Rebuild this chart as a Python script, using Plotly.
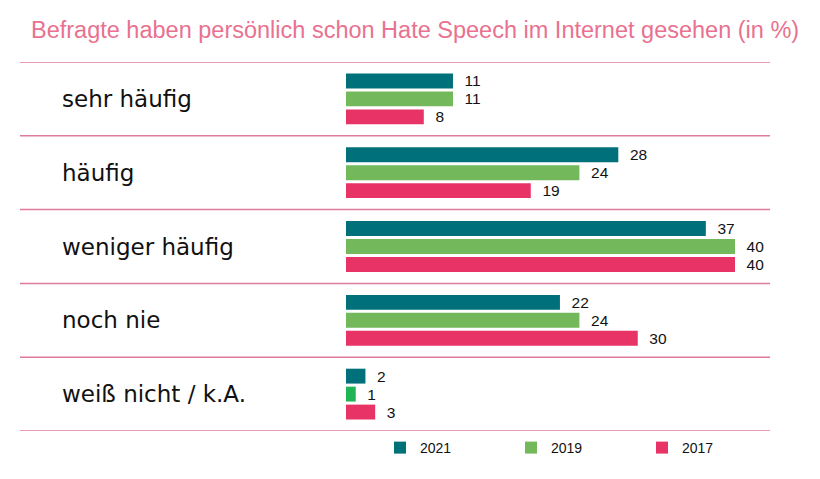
import plotly.graph_objects as go

categories = ["sehr häufig", "häufig", "weniger häufig", "noch nie", "weiß nicht / k.A."]
years = ["2021", "2019", "2017"]
values_2021 = [11, 28, 37, 22, 2]
values_2019 = [11, 24, 40, 24, 1]
values_2017 = [8, 19, 40, 30, 3]

title_text = "Befragte haben persönlich schon Hate Speech im Internet gesehen (in %)"

# page body adds an 8px offset; size the figure to compensate
OFF = 8
W, H = 820 - OFF, 479 - OFF


def px(x):
    return (x - OFF) / W


def py(y):
    return 1 - (y - OFF) / H


colors = {
    "2021": ["#00717a"] * 5,
    "2019": ["#73b95b"] * 4 + ["#1fb554"],
    "2017": ["#e83366"] * 5,
}
series = {"2021": values_2021, "2019": values_2019, "2017": values_2017}

fig = go.Figure()
for yr in years:
    fig.add_trace(go.Bar(
        name=yr, y=categories, x=series[yr], orientation="h",
        marker=dict(color=colors[yr], line=dict(width=0)),
        text=series[yr], textposition="outside", cliponaxis=False,
        texttemplate="  %{x}", constraintext="none",
        textfont=dict(family="Liberation Sans, Arial", size=15.5, color="#111"),
        legendgroup=yr,
    ))

x0_px, x40_px = 346, 735
y_top, y_bot = 62, 431
shapes = []
for b in [-0.5, 0.5, 1.5, 2.5, 3.5, 4.5]:
    shapes.append(dict(type="line", xref="paper", yref="y",
                       x0=px(20), x1=px(770), y0=b, y1=b,
                       line=dict(color="#e07a9c", width=1.5)))

annotations = [dict(text=c, xref="paper", yref="y", x=px(60), y=c,
                    xanchor="left", yanchor="middle", showarrow=False,
                    font=dict(family="DejaVu Sans", size=23, color="#111"))
               for c in categories]
annotations.append(dict(text=title_text, xref="paper", yref="paper",
                        x=px(29), y=py(30), xanchor="left", yanchor="middle",
                        showarrow=False,
                        font=dict(family="Liberation Sans, Arial", size=23.5, color="#e8728f")))

fig.update_layout(
    width=W, height=H,
    margin=dict(l=0, r=0, t=0, b=0, autoexpand=False),
    paper_bgcolor="white", plot_bgcolor="white",
    barmode="group", bargap=0.27, bargroupgap=0.17,
    xaxis=dict(range=[0, 40], domain=[px(x0_px), px(x40_px)], visible=False),
    yaxis=dict(range=[4.5, -0.5], domain=[py(y_bot), py(y_top)],
               visible=False, type="category", categoryorder="array",
               categoryarray=categories),
    shapes=shapes, annotations=annotations,
    showlegend=True,
    legend=dict(orientation="h", x=px(380), y=py(448), xanchor="left",
                yanchor="middle", entrywidth=86, entrywidthmode="pixels",
                font=dict(family="Liberation Sans, Arial", size=14, color="#111"),
                itemclick=False, traceorder="normal"),
)

fig.write_html("out.html")
